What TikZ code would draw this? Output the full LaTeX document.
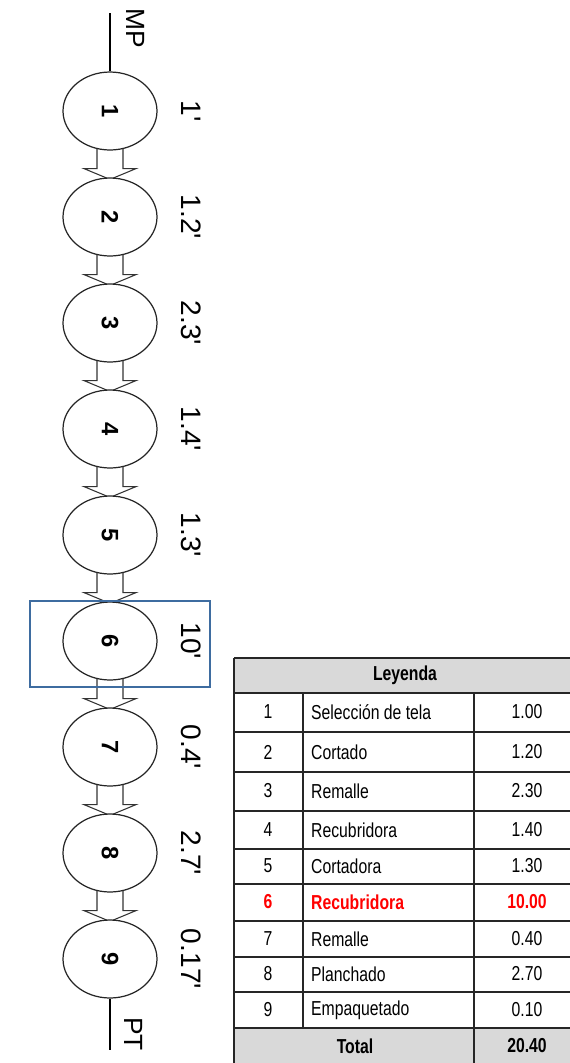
\documentclass[tikz,border=0pt]{standalone}
\usepackage{fontspec}
\setmainfont{Liberation Sans}
\newfontfamily\narrowfont[FakeStretch=0.78]{Liberation Sans}
\usetikzlibrary{shapes.geometric,calc,backgrounds}
\definecolor{boxblue}{RGB}{62,108,160}
\definecolor{headgray}{RGB}{217,217,217}
\definecolor{rowred}{RGB}{255,0,0}
\begin{document}
\begin{tikzpicture}[x=0.02cm, y=-0.02cm,
		op/.style={ellipse, draw=black!85, fill=white, line width=0.7pt, minimum width=1.88cm, minimum height=1.56cm, inner sep=0pt, font=\fontsize{13.5}{15}\selectfont\bfseries},
		flecha/.style={draw=black!80, fill=white, line width=0.6pt, line join=miter},
		tiempo/.style={rotate=-90, font=\fontsize{16}{18}\selectfont},
		extremo/.style={rotate=-90, font=\fontsize{15}{17}\selectfont},
		celda/.style={font=\narrowfont\fontsize{11.5}{13}\selectfont},
		negrita/.style={font=\narrowfont\fontsize{11.5}{13}\selectfont\bfseries},
		destacado/.style={negrita, text=rowred},
		rejilla/.style={draw=black!85, line width=0.9pt}]
	\useasboundingbox (0,0) rectangle (569,1063);
	% operaciones y tiempos
	\foreach \n/\t in {1/1,2/1.2,3/2.3,4/1.4,5/1.3,6/10,7/0.4,8/2.7,9/0.17}{
		\node[op] (c\n) at (110, {5+106*\n}) {\rotatebox{-90}{\n}};
		\node[tiempo] (t\n) at (191, {5+106*\n}) {\t\textquotesingle};
	}
	\begin{scope}[on background layer]
		\foreach \a/\b in {1/2,2/3,3/4,4/5,5/6,6/7,7/8,8/9}
			\draw[flecha] ($(c\a.south)+(-13,-4)$) -- ($(c\a.south)+(-13,18)$) -- ($(c\a.south)+(-26,18)$) -- ($(c\b.north)+(0,2)$) -- ($(c\a.south)+(26,18)$) -- ($(c\a.south)+(13,18)$) -- ($(c\a.south)+(13,-4)$);
	\end{scope}
	\coordinate (mp) at (110,13);
	\coordinate (pt) at (110,1050);
	\draw[line width=0.7pt] (mp) -- (c1.north);
	\draw[line width=0.7pt] (c9.south) -- (pt);
	\node[extremo] (lmp) at (136,28) {MP};
	\node[extremo] (lpt) at (134,1034) {PT};
	\node[draw=boxblue, line width=1.3pt, minimum width=3.6cm, minimum height=1.72cm] (marco) at (120,644) {};
	% leyenda
	\fill[headgray] (234,658) rectangle (590,693);
	\fill[headgray] (234,1028) rectangle (590,1075);
	\foreach \y in {658,693,732,772,811,849,884,921,957,992,1028}
		\draw[rejilla] (234,\y) -- (590,\y);
	\draw[rejilla, line width=1.3pt] (234,658) -- (234,1075);
	\draw[rejilla] (303,693) -- (303,1028);
	\draw[rejilla] (474,693) -- (474,1075);
	\node[negrita] (titulo) at (405,675) {Leyenda};
	\foreach \n/\d/\v/\y in {1/Selección de tela/1.00/712,2/Cortado/1.20/752,3/Remalle/2.30/791,4/Recubridora/1.40/830,5/Cortadora/1.30/866,7/Remalle/0.40/939,8/Planchado/2.70/974,9/Empaquetado/0.10/1010}{
		\node[celda] (num\n) at (268,\y) {\n};
		\node[celda, anchor=west] (op\n) at (305,\y) {\d};
		\node[celda] (val\n) at (527,\y) {\v};
	}
	\node[destacado] (num6) at (268,902) {6};
	\node[destacado, anchor=west] (op6) at (305,902) {Recubridora};
	\node[destacado] (val6) at (527,902) {10.00};
	\node[negrita] (total) at (355,1046) {Total};
	\node[negrita] (suma) at (527,1046) {20.40};
\end{tikzpicture}
\end{document}
